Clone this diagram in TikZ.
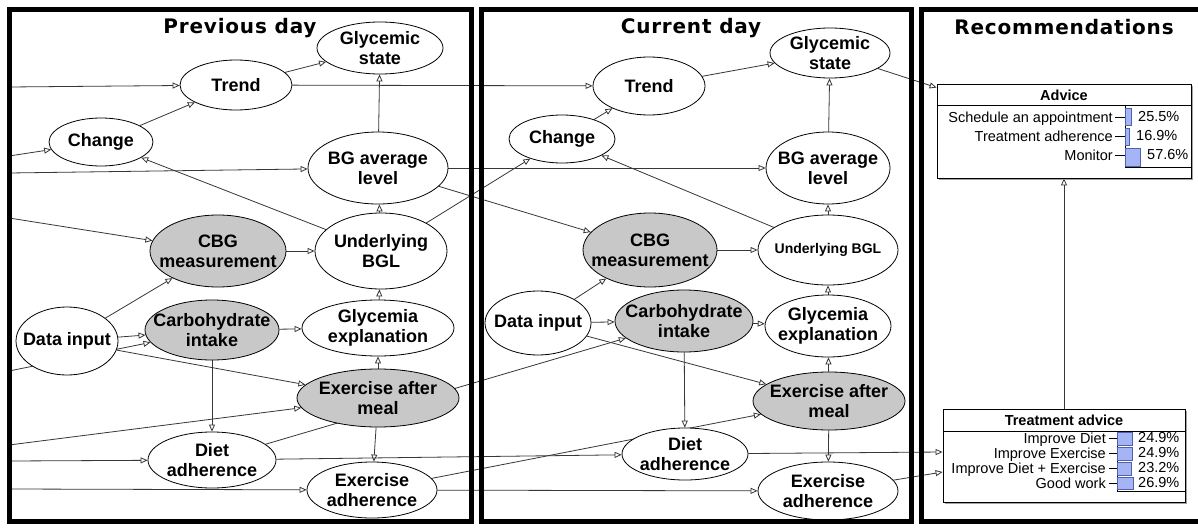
\documentclass[tikz,border=0pt]{standalone}
\usepackage{fontspec}
\setmainfont{Liberation Sans}
\newfontfamily\titlefont{DejaVu Sans}[LetterSpace=4]
\usetikzlibrary{shapes.geometric,arrows.meta,backgrounds,shadows}
\definecolor{ngray}{RGB}{200,200,200}
\definecolor{barfill}{RGB}{164,180,244}
\definecolor{bardraw}{RGB}{80,96,170}
\definecolor{lncol}{RGB}{55,55,55}
\begin{document}
\begin{tikzpicture}[x=1pt,y=-1pt,
  ell/.style 2 args={ellipse, draw=black, line width=0.8pt, fill=white, inner sep=0pt,
    minimum width=#1pt, minimum height=#2pt},
  shaded/.style={fill=ngray},
  lbl/.style={font=\fontsize{18}{20}\selectfont\bfseries, align=center, inner sep=0pt},
  lblsmall/.style={font=\fontsize{14}{16}\selectfont\bfseries, align=center, inner sep=0pt},
  txt/.style={label={[lbl]center:#1}},
  txts/.style={label={[lblsmall]center:#1}},
  conn/.style={draw=lncol, line width=0.8pt, -{Triangle[open,length=7pt,width=6pt]}},
  panel/.style={draw=black, line width=5pt},
  ttl/.style={font=\titlefont\fontsize{20}{22}\selectfont\bfseries, anchor=base, inner sep=0pt},
  box/.style={rectangle, draw=black, line width=0.8pt, fill=white, inner sep=0pt,
    drop shadow={shadow xshift=2pt, shadow yshift=-2pt, fill=black!45, opacity=0.8}},
  hdr/.style={font=\fontsize{14.5}{16}\selectfont\bfseries, anchor=base, inner sep=0pt},
  rowlbl/.style={font=\fontsize{14.5}{16}\selectfont, anchor=base east, inner sep=0pt},
  pct/.style={font=\fontsize{14.5}{16}\selectfont, anchor=base west, inner sep=0pt},
  bar/.style={draw=bardraw, fill=barfill, line width=0.7pt},
  thin/.style={draw=black, line width=0.8pt}
]
\useasboundingbox (0,0) rectangle (1198,527);

% ---------- Previous day ----------
\node[ell={126}{52}, txt={Glycemic\\state}] (aGS) at (380,48) {};
\node[ell={112}{50}, txt={Trend}] (aTR) at (236,85) {};
\node[ell={104}{48}, txt={Change}] (aCH) at (101,142) {};
\node[ell={140}{72}, txt={BG average\\level}] (aBG) at (378,168) {};
\node[ell={136}{72}, shaded, txt={CBG\\measurement}] (aCBG) at (218,251) {};
\node[ell={132}{76}, txt={Underlying\\BGL}] (aUB) at (381,251) {};
\node[ell={102}{68}, txt={Data input}] (aDI) at (67,341) {};
\node[ell={134}{60}, shaded, txt={Carbohydrate\\intake}] (aCI) at (212,330) {};
\node[ell={152}{56}, txt={Glycemia\\explanation}] (aGE) at (378,328) {};
\node[ell={162}{58}, shaded, txt={Exercise after\\meal}] (aEM) at (378,398) {};
\node[ell={128}{56}, txt={Diet\\adherence}] (aDA) at (212,460) {};
\node[ell={130}{56}, txt={Exercise\\adherence}] (aEA) at (372,490) {};

% ---------- Current day ----------
\node[ell={120}{50}, txt={Glycemic\\state}] (bGS) at (830,53) {};
\node[ell={112}{58}, txt={Trend}] (bTR) at (649,86) {};
\node[ell={106}{48}, txt={Change}] (bCH) at (562,139) {};
\node[ell={124}{72}, txt={BG average\\level}] (bBG) at (828,168) {};
\node[ell={134}{74}, shaded, txt={CBG\\measurement}] (bCBG) at (650,250) {};
\node[ell={140}{70}, txts={Underlying BGL}] (bUB) at (828,250) {};
\node[ell={106}{64}, txt={Data input}] (bDI) at (538,323) {};
\node[ell={138}{62}, shaded, txt={Carbohydrate\\intake}] (bCI) at (684,321) {};
\node[ell={126}{62}, txt={Glycemia\\explanation}] (bGE) at (828,326) {};
\node[ell={152}{58}, shaded, txt={Exercise after\\meal}] (bEM) at (829,401) {};
\node[ell={126}{52}, txt={Diet\\adherence}] (bDA) at (685,454) {};
\node[ell={140}{58}, txt={Exercise\\adherence}] (bEA) at (828,491) {};

% ---------- Recommendations ----------
\node[box, minimum width=254pt, minimum height=94pt] (adv) at (1064,131) {};
\node[box, minimum width=242pt, minimum height=93pt] (tadv) at (1064,455.5) {};

% incoming coordinates at the left border
\coordinate (inTR) at (9,87);
\coordinate (inCH) at (9,156);
\coordinate (inBG) at (9,173);
\coordinate (inCBG) at (9,218);
\coordinate (inCI) at (9,371);
\coordinate (inEM) at (9,445);
\coordinate (inDA) at (9,461);
\coordinate (inEA) at (9,489);

\begin{scope}[on background layer]
\fill[white] (0,0) rectangle (1198,527);
% incoming
\draw[conn] (inTR) -- (aTR);
\draw[conn] (inCH) -- (aCH);
\draw[conn] (inBG) -- (aBG);
\draw[conn] (inCBG) -- (aCBG);
\draw[conn] (inCI) -- (aCI);
\draw[conn] (inEM) -- (aEM);
\draw[conn] (inDA) -- (aDA);
\draw[conn] (inEA) -- (aEA);
% previous day
\draw[conn] (aTR) -- (aGS);
\draw[conn] (aCH) -- (aTR);
\draw[conn] (aUB) -- (aCH);
\draw[conn] (aCBG) -- (aUB);
\draw[conn] (aUB) -- (aBG);
\draw[conn] (aBG) -- (aGS);
\draw[conn] (aDI) -- (aCBG);
\draw[conn] (aDI) -- (aCI);
\draw[conn] (aDI) -- (aEM);
\draw[conn] (aCI) -- (aGE);
\draw[conn] (aGE) -- (aUB);
\draw[conn] (aEM) -- (aGE);
\draw[conn] (aCI) -- (aDA);
\draw[conn] (aEM) -- (aEA);
% across days
\draw[conn] (aTR) -- (bTR);
\draw[conn] (aBG) -- (bBG);
\draw[conn] (aUB) -- (bCH);
\draw[conn] (aBG) -- (bCBG);
\draw[conn] (aDA) -- (bCI);
\draw[conn] (aDA) -- (bDA);
\draw[conn] (aEA) -- (bEM);
\draw[conn] (aEA) -- (bEA);
% current day
\draw[conn] (bCH) -- (bTR);
\draw[conn] (bTR) -- (bGS);
\draw[conn] (bBG) -- (bGS);
\draw[conn] (bUB) -- (bBG);
\draw[conn] (bUB) -- (bCH);
\draw[conn] (bCBG) -- (bUB);
\draw[conn] (bDI) -- (bCBG);
\draw[conn] (bDI) -- (bCI);
\draw[conn] (bDI) -- (bEM);
\draw[conn] (bCI) -- (bGE);
\draw[conn] (bGE) -- (bUB);
\draw[conn] (bEM) -- (bGE);
\draw[conn] (bCI) -- (bDA);
\draw[conn] (bEM) -- (bEA);
% to recommendations
\draw[conn] (bGS) -- ([yshift=-4pt]adv.north west);
\draw[conn] (bDA) -- ([yshift=3.5pt]tadv.west);
\draw[conn] (bEA) -- ([yshift=-16.5pt]tadv.west);
\draw[conn] (tadv) -- (adv);
\end{scope}

% ---------- Advice box content ----------
\draw[thin] (adv.west |- 0,105) -- (adv.east |- 0,105);
\node[hdr] (advh) at (1064,100) {Advice};
\draw[thin] (1125,105) -- (1125,167) -- (adv.east |- 0,167);
\node[rowlbl] (adv1) at (1113,122.5) {Schedule an appointment};
\node[rowlbl] (adv2) at (1113,141.5) {Treatment adherence};
\node[rowlbl] (adv3) at (1113,160.5) {Monitor};
\draw[thin] (1115,117) -- (1125,117);
\draw[thin] (1115,136) -- (1125,136);
\draw[thin] (1115,155) -- (1125,155);
\draw[bar] (1125,108) rectangle ++(6.6,17);
\draw[bar] (1125,128) rectangle ++(4.4,17);
\draw[bar] (1125,148) rectangle ++(15,18);
\node[pct] (adv1p) at (1138,121.5) {25.5\%};
\node[pct] (adv2p) at (1136,140.5) {16.9\%};
\node[pct] (adv3p) at (1147,159.5) {57.6\%};

% ---------- Treatment advice box content ----------
\draw[thin] (tadv.west |- 0,431) -- (tadv.east |- 0,431);
\node[hdr] (tadvh) at (1064,425) {Treatment advice};
\draw[thin] (1117,431) -- (1117,491) -- (tadv.east |- 0,491);
\node[rowlbl] (tadv1) at (1106,443.5) {Improve Diet};
\node[rowlbl] (tadv2) at (1106,458.5) {Improve Exercise};
\node[rowlbl] (tadv3) at (1106,473.5) {Improve Diet + Exercise};
\node[rowlbl] (tadv4) at (1106,488) {Good work};
\draw[thin] (1109,438.5) -- (1117,438.5);
\draw[thin] (1109,453.5) -- (1117,453.5);
\draw[thin] (1109,468.5) -- (1117,468.5);
\draw[thin] (1109,483) -- (1117,483);
\draw[bar] (1117,432) rectangle ++(15,13);
\draw[bar] (1117,447) rectangle ++(15,13);
\draw[bar] (1117,462) rectangle ++(13.9,13);
\draw[bar] (1117,477) rectangle ++(16.1,12.5);
\node[pct] (tadv1p) at (1138,442.5) {24.9\%};
\node[pct] (tadv2p) at (1138,457.5) {24.9\%};
\node[pct] (tadv3p) at (1138,472.5) {23.2\%};
\node[pct] (tadv4p) at (1138,487) {26.9\%};

% ---------- panels and titles ----------
\draw[panel] (9.5,9.5) rectangle (471,521);
\draw[panel] (481,9.5) rectangle (911.5,521);
\draw[panel] (1202,9.5) -- (921.5,9.5) -- (921.5,521) -- (1202,521);
\node[ttl] (t1) at (240,34) {Previous day};
\node[ttl] (t2) at (691,34) {Current day};
\node[ttl] (t3) at (1064,35) {Recommendations};
\end{tikzpicture}
\end{document}
